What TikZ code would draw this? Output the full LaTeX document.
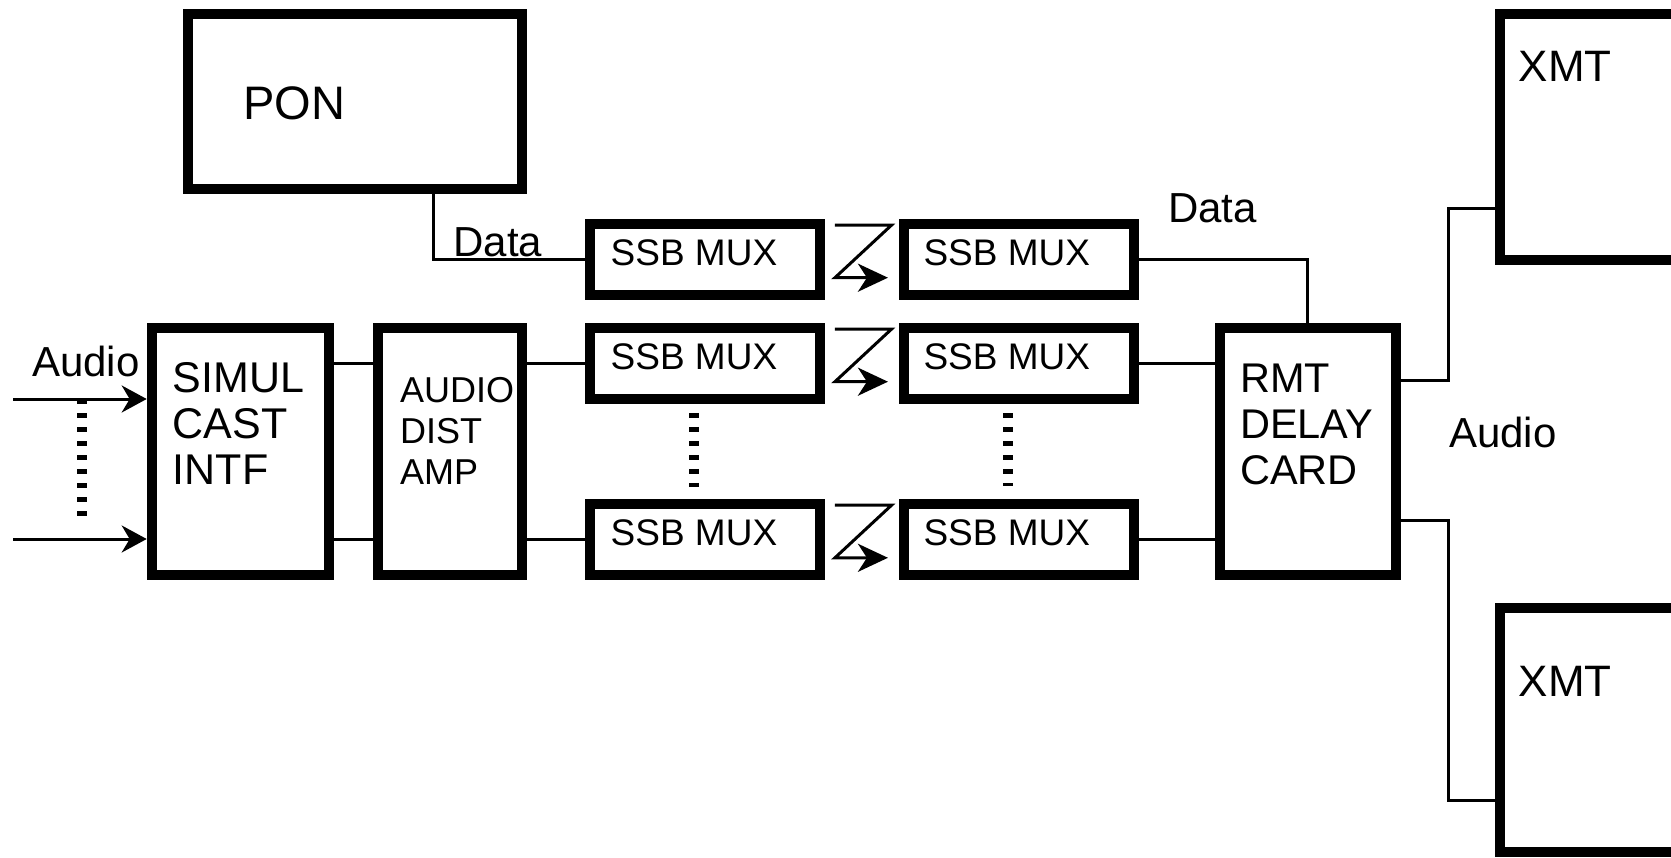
\documentclass[tikz,border=0pt]{standalone}
\usepackage{fontspec}
\setmainfont{Liberation Sans}
\usetikzlibrary{arrows.meta}

\tikzset{
  blk/.style={draw, line width=10pt, inner sep=0pt, fill=white},
  wire/.style={line width=3pt},
  dotcol/.style={line width=10pt, dash pattern=on 5pt off 9pt},
  lbl/.style={inner sep=0pt, anchor=base west, align=left},
  inarrow/.style={wire, -{Stealth[length=25pt, width=27pt, inset=8pt]}},
  boltarrow/.style={wire, -{Stealth[length=30pt, width=28pt, inset=9pt]}},
}

\begin{document}
\begin{tikzpicture}[x=1pt, y=-1pt]
\useasboundingbox (0,0) rectangle (1671,857);
\clip (0,0) rectangle (1671,857);
\fill[white] (0,0) rectangle (1671,857);

% --- blocks ---
\node[blk, minimum width=333.4pt, minimum height=175pt] (pon) at (355,101.8) {};
\node[blk, minimum width=177.6pt, minimum height=246.7pt] (simul) at (240.5,451.7) {};
\node[blk, minimum width=143.4pt, minimum height=246.7pt] (ada) at (450,451.7) {};
\foreach \r/\yc in {1/259.7, 2/363.7, 3/539.8} {
  \node[blk, minimum width=229.5pt, minimum height=70.7pt] (ssbL\r) at (705.2,\yc) {};
  \node[blk, minimum width=230pt, minimum height=70.7pt] (ssbR\r) at (1019.3,\yc) {};
}
\node[blk, minimum width=175.7pt, minimum height=246.7pt] (rmt) at (1307.8,451.7) {};
\node[blk, minimum width=400pt, minimum height=245.7pt] (xmtA) at (1700,137.2) {};
\node[blk, minimum width=400pt, minimum height=243.7pt] (xmtB) at (1700,730.2) {};

% --- labels (multi-line labels sit on the baseline of their last line) ---
\node[lbl, font=\fontsize{47}{50}\selectfont] (ponT) at (243,119) {PON};
\node[lbl, font=\fontsize{43}{46}\selectfont] (simulT) at (172.7,484.5) {SIMUL\\CAST\\INTF};
\node[lbl, font=\fontsize{36}{40.7}\selectfont] (adaT) at (400,484) {AUDIO\\DIST\\AMP};
\foreach \r/\yc in {1/259.7, 2/363.7, 3/539.8} {
  \node[lbl, font=\fontsize{37}{40}\selectfont] (ssbLT\r) at (610.5,\yc+6) {SSB MUX};
  \node[lbl, font=\fontsize{37}{40}\selectfont] (ssbRT\r) at (923.3,\yc+6) {SSB MUX};
}
\node[lbl, font=\fontsize{41.5}{45.7}\selectfont] (rmtT) at (1240,484) {RMT\\DELAY\\CARD};
\node[lbl, font=\fontsize{44}{48}\selectfont] (xmtAT) at (1518.5,81.7) {XMT};
\node[lbl, font=\fontsize{44}{48}\selectfont] (xmtBT) at (1518.5,696.7) {XMT};
\node[lbl, font=\fontsize{42}{45}\selectfont] (dataL) at (453.3,256) {Data};
\node[lbl, font=\fontsize{42}{45}\selectfont] (dataR) at (1168,222) {Data};
\node[lbl, font=\fontsize{42}{45}\selectfont] (audioL) at (32,376.7) {Audio};
\node[lbl, font=\fontsize{42}{45}\selectfont] (audioR) at (1449,447) {Audio};

% --- data paths ---
\draw[wire] ([xshift=78.3pt]pon.south) |- (ssbL1.west);
\draw[wire] (ssbR1.east) -| (rmt.north);

% --- audio inputs ---
\coordinate (inA) at (13,399);
\coordinate (inB) at (13,539);
\draw[inarrow] (inA) -- (inA -| simul.west);
\draw[inarrow] (inB) -- (inB -| simul.west);
\draw[dotcol] (81.7,399) -- (81.7,517);

% --- audio chain ---
\foreach \r in {2,3} {
  \draw[wire] (simul.east |- ssbL\r) -- (ada.west |- ssbL\r);
  \draw[wire] (ada.east |- ssbL\r) -- (ssbL\r.west);
  \draw[wire] (ssbR\r.east) -- (rmt.west |- ssbR\r);
}
\draw[dotcol] (ssbL2.south) ++(-11.2,8.7) -- ++(0,74);
\draw[dotcol] (ssbR2.south) ++(-11,9.3) -- ++(0,73);

% --- radio links ---
\foreach \r in {1,2,3}
  \draw[boltarrow] ([shift={(10,-34.7)}]ssbL\r.east) -- ++(56.7,0) -- ++(-56.7,52.7) -- ++(53,0);

% --- outputs to transmitters ---
\coordinate (ja) at (1448,208.5);
\coordinate (jb) at (1448,800);
\draw[wire] ([yshift=71.7pt]rmt.east) -| (ja) -- (ja -| xmtA.west);
\draw[wire] ([yshift=-69pt]rmt.east) -| (jb) -- (jb -| xmtB.west);
\end{tikzpicture}
\end{document}
